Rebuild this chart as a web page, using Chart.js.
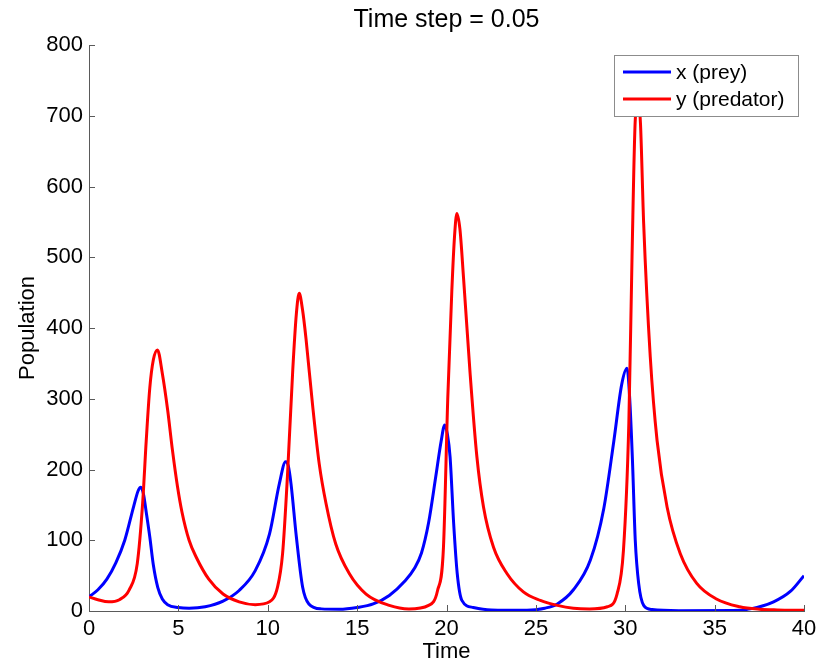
<!DOCTYPE html>
<html lang="en">
<head>
<meta charset="UTF-8">
<title>Time step = 0.05</title>
<script src="https://cdn.jsdelivr.net/npm/chart.js@4/dist/chart.umd.min.js"></script>
<style>
    html, body { margin: 0; padding: 0; background: #fff; }
    #wrap { width: 825px; height: 663px; }
</style>
</head>
<body>
<div id="wrap"><canvas id="lv" width="825" height="663"></canvas></div>
<script>
// values
const preyT = [0, 0.5, 1, 1.5, 2, 2.5, 2.75, 2.9, 3.05, 3.2, 3.4, 3.6, 3.85, 4.1, 4.4, 5, 5.6, 6.5, 7.5, 8.4, 9.3, 10.1, 10.65, 11.0, 11.15, 11.3, 11.6, 11.95, 12.3, 13, 14, 15, 15.9, 16.8, 17.7, 18.2, 18.6, 19.0, 19.4, 19.7, 19.9, 20.05, 20.2, 20.4, 20.6, 20.86, 21.5, 22.5, 24.5, 25.5, 26.2, 27.1, 28.05, 28.8, 29.36, 29.8, 30.1, 30.25, 30.4, 30.56, 30.75, 31.03, 31.5, 33, 36, 37, 38.3, 39.25, 40];
const preyV = [20, 30, 45, 68, 100, 148, 170, 175, 165, 140, 105, 65, 33, 17, 9, 5, 4, 6, 14, 29, 57, 109, 180, 211, 205, 180, 105, 34, 10, 3, 2.5, 5, 10, 22, 43, 60, 82, 125, 190, 240, 263, 250, 218, 124, 53, 15, 5, 1.5, 1, 4, 10, 30, 72, 145, 240, 320, 343, 300, 215, 100, 39, 8, 2, 0.5, 0.7, 3, 13, 28, 50];

const predT = [0, 0.5, 1.1, 1.7, 2.25, 2.7, 3.0, 3.2, 3.4, 3.6, 3.83, 4.1, 4.4, 4.67, 4.95, 5.2, 5.6, 6.0, 6.7, 7.5, 8.4, 9.3, 10.1, 10.55, 10.83, 11.1, 11.4, 11.6, 11.76, 11.95, 12.14, 12.5, 12.88, 13.26, 13.8, 14.56, 15.5, 16.8, 17.9, 19.0, 19.5, 19.83, 20.07, 20.3, 20.45, 20.58, 20.75, 20.95, 21.32, 21.7, 22.07, 22.63, 23.38, 24.3, 25.25, 26.2, 27.1, 28, 29, 29.54, 29.9, 30.2, 30.38, 30.56, 30.72, 30.85, 31.03, 31.4, 31.78, 32.34, 33.08, 34, 35.1, 36.4, 37.5, 38.5, 40];
const predV = [20, 16, 13, 16, 30, 67, 152, 240, 315, 355, 369, 336, 284, 227, 176, 140, 100, 76, 45, 24, 13, 9, 13, 34, 81, 190, 341, 420, 449, 425, 385, 293, 208, 152, 95, 53, 24, 8, 3, 8, 29, 90, 300, 454, 530, 562, 540, 472, 336, 218, 147, 90, 53, 27, 15, 8, 4, 3, 6, 24, 86, 265, 501, 694, 720, 690, 548, 359, 241, 147, 81, 39, 17, 6, 2.5, 1.5, 1];

const xTicks = [0, 5, 10, 15, 20, 25, 30, 35, 40];
const yTicks = [0, 100, 200, 300, 400, 500, 600, 700, 800];
const seriesNames = ['x (prey)', 'y (predator)'];

const FONT = "'Liberation Sans', Arial, Helvetica, sans-serif";
const AXIS_GREY = '#5a5a5a';

function pts(ts, vs) {
    return ts.map((t, i) => ({ x: t, y: vs[i] }));
}

// matlab style ticks that point into the plot
const innerTicks = {
    id: 'innerTicks',
    afterDraw(chart) {
        const { ctx, chartArea: a, scales } = chart;
        ctx.save();
        ctx.strokeStyle = AXIS_GREY;
        ctx.lineWidth = 1;
        ctx.beginPath();
        xTicks.forEach(v => {
            const px = Math.round(scales.x.getPixelForValue(v)) + 0.5;
            ctx.moveTo(px, a.bottom);
            ctx.lineTo(px, a.bottom - 6);
        });
        yTicks.forEach(v => {
            const py = Math.round(scales.y.getPixelForValue(v)) + 0.5;
            ctx.moveTo(a.left, py);
            ctx.lineTo(a.left + 6, py);
        });
        ctx.stroke();
        ctx.restore();
    }
};

// legend box in the top right corner of the axes
const boxLegend = {
    id: 'boxLegend',
    afterDraw(chart) {
        const { ctx, chartArea: a } = chart;
        const x0 = a.right - 190, y0 = a.top + 10, w = 184, h = 61;
        ctx.save();
        ctx.fillStyle = '#fff';
        ctx.fillRect(x0, y0, w, h);
        ctx.strokeStyle = '#8c8c8c';
        ctx.lineWidth = 1;
        ctx.strokeRect(x0 + 0.5, y0 + 0.5, w, h);
        ctx.font = '21px ' + FONT;
        ctx.textBaseline = 'middle';
        ctx.fillStyle = '#000';
        chart.data.datasets.forEach((ds, i) => {
            const yy = y0 + 17 + i * 27;
            ctx.strokeStyle = ds.borderColor;
            ctx.lineWidth = 3;
            ctx.beginPath();
            ctx.moveTo(x0 + 9, yy);
            ctx.lineTo(x0 + 57, yy);
            ctx.stroke();
            ctx.fillText(ds.label, x0 + 62, yy + 1);
        });
        ctx.restore();
    }
};

new Chart(document.getElementById('lv'), {
    type: 'line',
    data: {
        datasets: [{
            label: seriesNames[0],
            data: pts(preyT, preyV),
            borderColor: '#0000ff',
            borderWidth: 3,
            pointRadius: 0,
            cubicInterpolationMode: 'monotone',
            order: 2
        }, {
            label: seriesNames[1],
            data: pts(predT, predV),
            borderColor: '#ff0000',
            borderWidth: 3,
            pointRadius: 0,
            cubicInterpolationMode: 'monotone',
            order: 1
        }]
    },
    options: {
        responsive: false,
        animation: false,
        events: [],
        layout: { padding: { left: 0, right: 21, top: 0, bottom: 0 } },
        plugins: {
            legend: { display: false },
            tooltip: { enabled: false },
            title: {
                display: true,
                text: 'Time step = 0.05',
                fullSize: false,
                color: '#000',
                font: { family: FONT, size: 25, weight: 'normal', lineHeight: 1.2 },
                padding: { top: 5, bottom: 10 }
            }
        },
        scales: {
            x: {
                type: 'linear',
                min: 0,
                max: 40,
                afterBuildTicks: s => { s.ticks = xTicks.map(v => ({ value: v })); },
                afterFit: s => { s.height = 52; },
                grid: { display: false, drawTicks: false },
                border: { display: true, color: AXIS_GREY, width: 1 },
                ticks: { color: '#000', padding: 5, maxRotation: 0, font: { family: FONT, size: 22 } },
                title: {
                    display: true,
                    text: 'Time',
                    color: '#000',
                    font: { family: FONT, size: 22, lineHeight: 1 },
                    padding: { top: 0, bottom: 0 }
                }
            },
            y: {
                min: 0,
                max: 800,
                afterBuildTicks: s => { s.ticks = yTicks.map(v => ({ value: v })); },
                afterFit: s => { s.width = 89; },
                grid: { display: false, drawTicks: false },
                border: { display: true, color: AXIS_GREY, width: 1 },
                ticks: { color: '#000', padding: 6, font: { family: FONT, size: 22 } },
                title: {
                    display: true,
                    text: 'Population',
                    color: '#000',
                    font: { family: FONT, size: 22, lineHeight: 1 },
                    padding: { top: 17, bottom: 0 }
                }
            }
        }
    },
    plugins: [innerTicks, boxLegend]
});
</script>
</body>
</html>
